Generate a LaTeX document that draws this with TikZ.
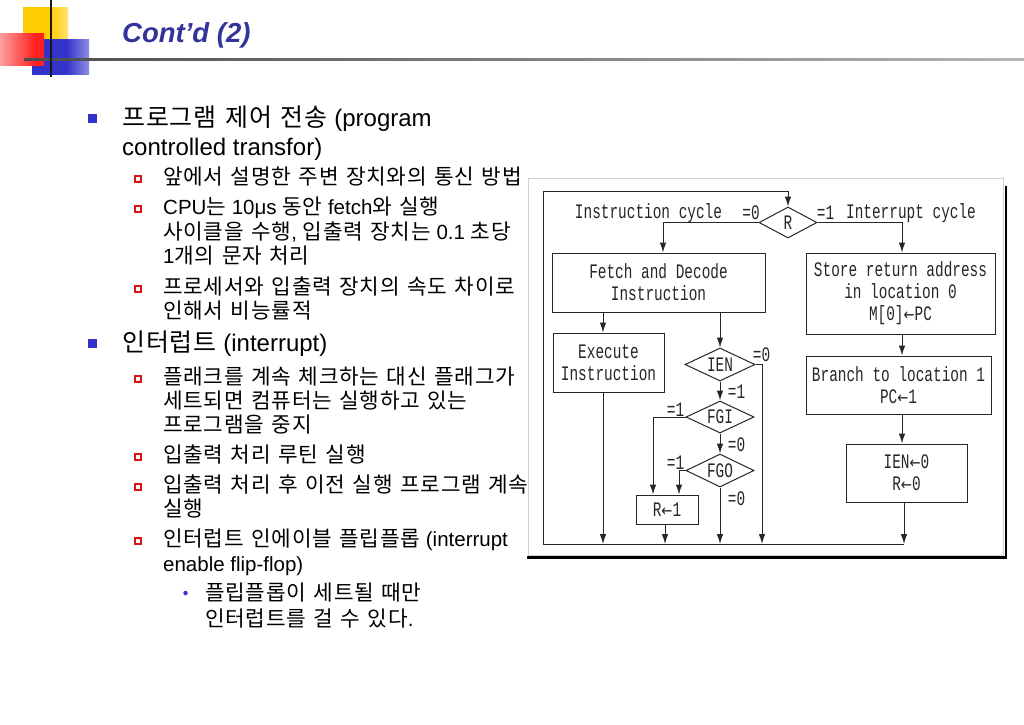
\documentclass[tikz,border=0pt]{standalone}
\usepackage{fontspec}
\setmainfont{Liberation Sans}
\newfontfamily\krf[Scale=1.04,LetterSpace=3.5,WordSpace=1.35]{Noto Sans CJK KR}
\newfontfamily\fcf[FakeStretch=0.7]{Liberation Mono}
\newfontfamily\arf[FakeStretch=0.8,Scale=0.8]{DejaVu Sans}
\newcommand\kor[1]{{\krf #1}}
\newcommand\larr{{\arf ←}}
\usetikzlibrary{arrows.meta,shapes.geometric}
\definecolor{tblue}{HTML}{333399}
\definecolor{bblue}{HTML}{3333CC}
\definecolor{bred}{HTML}{DD1111}
\definecolor{logoY}{HTML}{FFCC00}
\definecolor{logoR}{HTML}{FF2020}
\definecolor{logoB}{HTML}{3333CC}
\definecolor{fcline}{HTML}{262626}
\pgfdeclarehorizontalshading{yfade}{100bp}{color(0bp)=(logoY); color(55bp)=(logoY); color(100bp)=(white)}
\pgfdeclarehorizontalshading{bfade}{100bp}{color(0bp)=(logoB); color(55bp)=(logoB); color(100bp)=(white)}
\pgfdeclarehorizontalshading{rfade}{100bp}{color(0bp)=(logoR!8); color(65bp)=(logoR); color(100bp)=(logoR)}
\pgfdeclarehorizontalshading{lfade}{100bp}{color(0bp)=(black!90); color(50bp)=(black!50); color(100bp)=(black!8)}
\tikzset{
 fc/.style={font=\fcf\fontsize{20.6}{22}\selectfont, text=fcline},
 box/.style={fc, draw=fcline, line width=1pt, rectangle, inner sep=0pt, align=center},
 dia/.style={draw=fcline, line width=1pt, diamond, inner sep=0pt},
 arr/.style={draw=fcline, line width=1pt, -{Latex[length=10pt,width=6.5pt]}},
 lab/.style={fc, inner sep=0pt, anchor=base},
 tA/.style={anchor=base west, inner sep=0pt, font=\fontsize{24}{28}\selectfont},
 tB/.style={anchor=base west, inner sep=0pt, font=\fontsize{20.5}{24}\selectfont},
 bA/.style={fill=bblue, rectangle, minimum size=9pt, inner sep=0pt},
 bB/.style={draw=bred, line width=1.3pt, rectangle, minimum size=6pt, inner sep=0pt},
 bC/.style={fill=bblue, circle, minimum size=4.5pt, inner sep=0pt}
}
\begin{document}
\begin{tikzpicture}[x=1pt,y=-1pt]
\useasboundingbox[fill=white] (0,0) rectangle (1024,724);
% logo
\shade[shading=yfade] (23,7) rectangle (68,52);
\shade[shading=bfade] (32,39) rectangle (89,74);
\shade[shading=rfade] (0,33) rectangle (44,65);
\shade[shading=lfade] (24,58) rectangle (1024,60.5);
\fill[black!90] (50,0) rectangle (52.2,77);
% title
\node[anchor=base west, inner sep=0pt, text=tblue, font=\fontsize{27.5}{32}\selectfont\bfseries\itshape] (title) at (122,42) {Cont’d (2)};
% bullets
\node[bA] (p1) at (92.5,118.5) {};
\node[bA] (p2) at (92.5,343.5) {};
\node[bB] (q1) at (138,179) {};
\node[bB] (q2) at (138,209) {};
\node[bB] (q3) at (138,289) {};
\node[bB] (q4) at (138,379) {};
\node[bB] (q5) at (138,457) {};
\node[bB] (q6) at (138,487) {};
\node[bB] (q7) at (138,541) {};
\node[bC] (d1) at (185.5,593) {};
% text
\node[tA] (t1) at (122,126.6) {\kor{프로그램 제어 전송} (program};
\node[tA] (t2) at (122,155.6) {controlled transfor)};
\node[tB] (t3) at (163,184.3) {\kor{앞에서 설명한 주변 장치와의 통신 방법}};
\node[tB] (t4) at (163,214.3) {CPU\kor{는} 10μs \kor{동안} fetch\kor{와 실행}};
\node[tB] (t5) at (163,239.3) {\kor{사이클을 수행}, \kor{입출력 장치는} 0.1 \kor{초당}};
\node[tB] (t6) at (163,263.3) {1\kor{개의 문자 처리}};
\node[tB] (t7) at (163,294.3) {\kor{프로세서와 입출력 장치의 속도 차이로}};
\node[tB] (t8) at (163,318.3) {\kor{인해서 비능률적}};
\node[tA] (t9) at (122,351.6) {\kor{인터럽트} (interrupt)};
\node[tB] (t10) at (163,384.3) {\kor{플래크를 계속 체크하는 대신 플래그가}};
\node[tB] (t11) at (163,408.3) {\kor{세트되면 컴퓨터는 실행하고 있는}};
\node[tB] (t12) at (163,432.3) {\kor{프로그램을 중지}};
\node[tB] (t13) at (163,462.3) {\kor{입출력 처리 루틴 실행}};
\node[tB] (t14) at (163,492.3) {\kor{입출력 처리 후 이전 실행 프로그램 계속}};
\node[tB] (t15) at (163,516.3) {\kor{실행}};
\node[tB] (t16) at (163,546.3) {\kor{인터럽트 인에이블 플립플롭} (interrupt};
\node[tB] (t17) at (163,571.3) {enable flip-flop)};
\node[tB] (t18) at (205,600.3) {\kor{플립플롭이 세트될 때만}};
\node[tB] (t19) at (205,626.3) {\kor{인터럽트를 걸 수 있다}.};
% image frame
\draw[black!18, line width=0.8pt] (528.5,178.5) rectangle (1003,555);
\draw[black, line width=2.5pt] (1005.8,186) -- (1005.8,557.3) -- (527,557.3);
% flowchart nodes
\node[dia, minimum width=58pt, minimum height=31pt, label={[fc]center:R}] (R) at (788,222.5) {};
\node[box, minimum width=213pt, minimum height=59pt] (Fetch) at (658.5,282.5) {Fetch and Decode\\Instruction};
\node[box, minimum width=189pt, minimum height=81pt] (Store) at (900.5,293.5) {Store return address\\in location 0\\M[0]\larr PC};
\node[box, minimum width=111pt, minimum height=59pt] (Ex) at (608.5,362.5) {Execute\\Instruction};
\node[box, minimum width=185pt, minimum height=58pt] (Branch) at (898.5,385) {Branch to location 1\\PC\larr 1};
\node[box, minimum width=121pt, minimum height=58pt] (Ien0) at (906.5,473) {IEN\larr 0\\R\larr 0};
\node[box, minimum width=62pt, minimum height=29pt] (R1) at (667,509.5) {R\larr 1};
\node[dia, minimum width=70pt, minimum height=33pt, label={[fc]center:IEN}] (IEN) at (720,364.5) {};
\node[dia, minimum width=68pt, minimum height=32pt, label={[fc]center:FGI}] (FGI) at (720,417) {};
\node[dia, minimum width=68pt, minimum height=33pt, label={[fc]center:FGO}] (FGO) at (720,470.5) {};
% labels
\node[lab] (c1) at (648.5,218) {Instruction cycle};
\node[lab] (c2) at (911,218) {Interrupt cycle};
\node[lab] (l1) at (751,219) {=0};
\node[lab] (l2) at (825.5,219) {=1};
\node[lab] (l3) at (761.5,361) {=0};
\node[lab] (l4) at (736.5,398) {=1};
\node[lab] (l5) at (675.5,416) {=1};
\node[lab] (l6) at (736.5,451) {=0};
\node[lab] (l7) at (675.5,469) {=1};
\node[lab] (l8) at (736.5,505) {=0};
% coordinates
\coordinate (xr) at (902,0);
\coordinate (bx1) at (603,544);
\coordinate (bx2) at (665,544);
\coordinate (bx3) at (720,544);
\coordinate (bx4) at (762,544);
\coordinate (busR) at (904,544);
\coordinate (busL) at (543,544);
\coordinate (topL) at (543,191);
% connectors
\draw[arr] (busR) -- (busL) -- (topL) -| (R.north);
\draw[arr] (R.west) -| ([xshift=4.5pt]Fetch.north);
\draw[arr] (R.east) -| (Store.north -| xr);
\draw[arr] (Fetch.south -| bx1) -- (Ex.north -| bx1);
\draw[arr] (Ex.south -| bx1) -- (bx1);
\draw[arr] (Fetch.south -| IEN.north) -- (IEN.north);
\draw[arr] (IEN.south) -- (FGI.north);
\draw[arr] (FGI.south) -- (FGO.north);
\draw[arr] (IEN.east) -| (bx4);
\draw[arr] (FGI.west) -| ([xshift=-14pt]R1.north);
\draw[arr] (FGO.west) -| ([xshift=12pt]R1.north);
\draw[arr] (R1.south -| bx2) -- (bx2);
\draw[arr] (FGO.south) -- (bx3);
\draw[arr] (Store.south -| xr) -- (Branch.north -| xr);
\draw[arr] (Branch.south -| xr) -- (Ien0.north -| xr);
\draw[arr] (Ien0.south -| busR) -- (busR);
\end{tikzpicture}
\end{document}
